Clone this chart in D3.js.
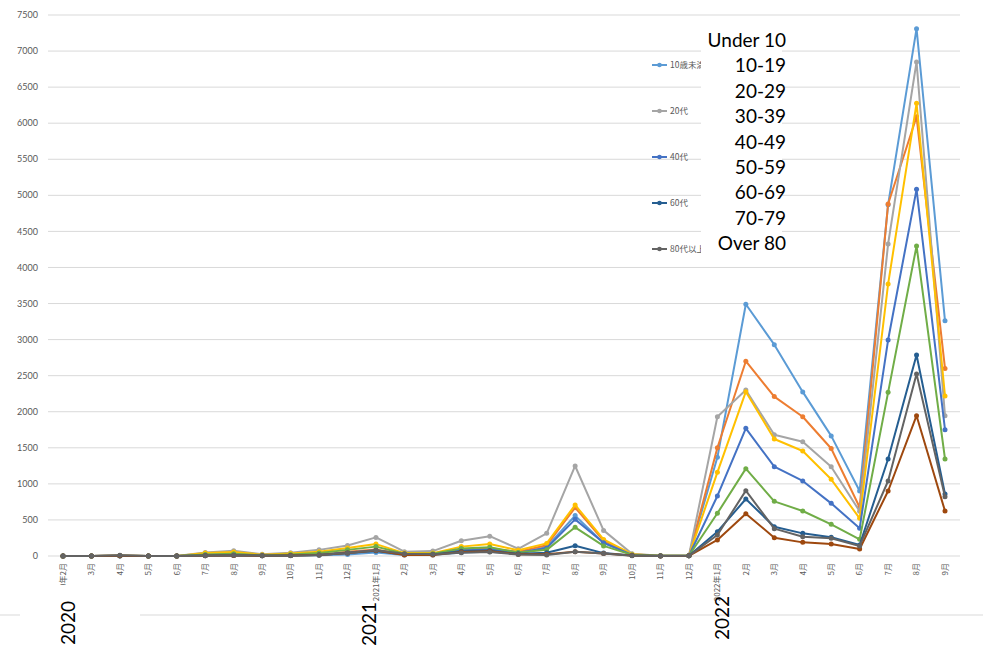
<!DOCTYPE html>
<html><head><meta charset="utf-8">
<script src="https://cdn.jsdelivr.net/npm/d3@7"></script>
<style>html,body{margin:0;padding:0;background:#fff;}svg{display:block;}</style>
</head><body>
<svg id="c" width="983" height="646"></svg>
<script>
const months = ["2020年2月","3月","4月","5月","6月","7月","8月","9月","10月","11月","12月",
  "2021年1月","2月","3月","4月","5月","6月","7月","8月","9月","10月","11月","12月",
  "2022年1月","2月","3月","4月","5月","6月","7月","8月","9月"];
const seriesNames = ["10歳未満","10代","20代","30代","40代","50代","60代","70代","80代以上"];
const englishNames = ["Under 10","10-19","20-29","30-39","40-49","50-59","60-69","70-79","Over 80"];
const colors = ["#5B9BD5","#ED7D31","#A5A5A5","#FFC000","#4472C4","#70AD47","#255E91","#9E480E","#636363"];
const under10 = [0,0,2,0,0,5,8,4,6,12,20, 50,15,15,50,60,30,125,560,180,15,2,5, 1368,3490,2930,2275,1665,900,4870,7310,3260];
const age10s  = [0,0,3,0,0,15,20,6,10,20,60, 90,20,20,90,100,60,150,670,215,20,2,5, 1500,2700,2210,1930,1490,675,4880,6090,2600];
const age20s  = [0,0,5,0,0,50,72,25,45,85,145, 258,60,68,212,275,100,315,1248,355,30,3,8, 1930,2300,1682,1585,1238,620,4325,6850,1945];
const age30s  = [0,0,3,0,0,40,55,18,35,60,110, 165,40,40,130,165,80,175,707,230,25,2,6, 1160,2278,1622,1456,1063,522,3770,6275,2218];
const age40s  = [0,0,2,0,0,15,20,8,12,20,50, 80,20,20,80,90,45,110,508,185,15,2,4, 832,1770,1238,1040,730,384,2994,5083,1751];
const age50s  = [0,0,2,0,0,20,30,10,20,40,85, 130,30,30,105,120,50,85,398,140,15,2,4, 592,1211,758,624,439,231,2269,4298,1345];
const age60s  = [0,0,1,0,0,8,12,5,8,15,40, 70,20,20,65,75,30,45,143,40,8,1,3, 337,790,406,314,259,152,1345,2786,859];
const age70s  = [0,0,2,0,0,5,8,3,6,15,40, 75,15,15,55,65,25,25,60,35,6,1,2, 222,587,254,189,166,97,901,1945,624];
const over80  = [0,0,10,0,0,5,10,5,5,15,40, 80,30,25,45,55,20,15,60,35,5,1,2, 291,906,379,268,245,139,1040,2523,822];
const allValues = [under10,age10s,age20s,age30s,age40s,age50s,age60s,age70s,over80];
const yTicks = [0,500,1000,1500,2000,2500,3000,3500,4000,4500,5000,5500,6000,6500,7000,7500];
const legendShown = [0,2,4,6,8];
const years = [{label:"2020", i:0}, {label:"2021", i:11}, {label:"2022", i:23}];

const svg = d3.select("#c");
const x = d3.scalePoint().domain(d3.range(months.length)).range([63, 945]);
const y = d3.scaleLinear().domain([0, 7500]).range([556, 15]);

// gridlines
svg.append("g").selectAll("line").data(yTicks).join("line")
  .attr("x1", 48).attr("x2", 960)
  .attr("y1", d => y(d)).attr("y2", d => y(d))
  .attr("stroke", "#d9d9d9").attr("stroke-width", 1);

// y labels
svg.append("g").selectAll("text").data(yTicks).join("text")
  .attr("x", 38).attr("y", d => y(d)).attr("dy", "0.35em")
  .attr("text-anchor", "end")
  .style("font", "9px Lato, sans-serif").attr("fill", "#595959")
  .text(d => d);

// x tick labels
svg.append("g").selectAll("text").data(months).join("text")
  .attr("transform", (d, i) => `translate(${x(i)},563) rotate(-90)`)
  .attr("dy", "0.35em").attr("text-anchor", "end")
  .style("font", "8px 'Noto Sans CJK JP', sans-serif").attr("fill", "#595959")
  .text(d => d);

// legend (Excel, partly hidden)
const lg = svg.append("g");
const legendY = d3.scalePoint().domain(legendShown).range([65, 249]);
legendShown.forEach(k => {
  const ly = legendY(k);
  lg.append("line").attr("x1", 652).attr("x2", 667).attr("y1", ly).attr("y2", ly)
    .attr("stroke", colors[k]).attr("stroke-width", 2);
  lg.append("circle").attr("cx", 659.5).attr("cy", ly).attr("r", 2.3).attr("fill", colors[k]);
  lg.append("text").attr("x", 670).attr("y", ly).attr("dy", "0.35em")
    .style("font", "8.5px 'Noto Sans CJK JP', sans-serif").attr("fill", "#595959")
    .text(seriesNames[k]);
});

// series
const line = d3.line().x((d, i) => x(i)).y(d => y(d));
allValues.forEach((vals, k) => {
  const g = svg.append("g");
  g.append("path").datum(vals).attr("d", line)
    .attr("fill", "none").attr("stroke", colors[k]).attr("stroke-width", 2)
    .attr("stroke-linejoin", "round");
  g.selectAll("circle").data(vals).join("circle")
    .attr("cx", (d, i) => x(i)).attr("cy", d => y(d))
    .attr("r", 2.5).attr("fill", colors[k]);
});

// bottom line and white box
svg.append("line").attr("x1", 0).attr("x2", 983).attr("y1", 615).attr("y2", 615)
  .attr("stroke", "#d9d9d9").attr("stroke-width", 1);
svg.append("rect").attr("x", 20).attr("y", 585).attr("width", 120).attr("height", 61).attr("fill", "#fff");

// English label overlay
svg.append("rect").attr("x", 701).attr("y", 27).attr("width", 81).attr("height", 230).attr("fill", "#fff");
svg.append("g").selectAll("text").data(englishNames).join("text")
  .attr("x", 786).attr("y", (d, i) => 47 + i * 25.4)
  .attr("text-anchor", "end")
  .style("font", "19px Lato, sans-serif").attr("fill", "#000")
  .text(d => d);

// year labels
const yearOffsets = {"2020": [12, 645], "2021": [0, 646], "2022": [12, 640]};
svg.append("g").selectAll("text").data(years).join("text")
  .attr("transform", d => `translate(${x(d.i) + yearOffsets[d.label][0]},${yearOffsets[d.label][1]}) rotate(-90)`)
  .style("font", "19px Lato, sans-serif").attr("fill", "#000")
  .text(d => d.label);
</script>
</body></html>
